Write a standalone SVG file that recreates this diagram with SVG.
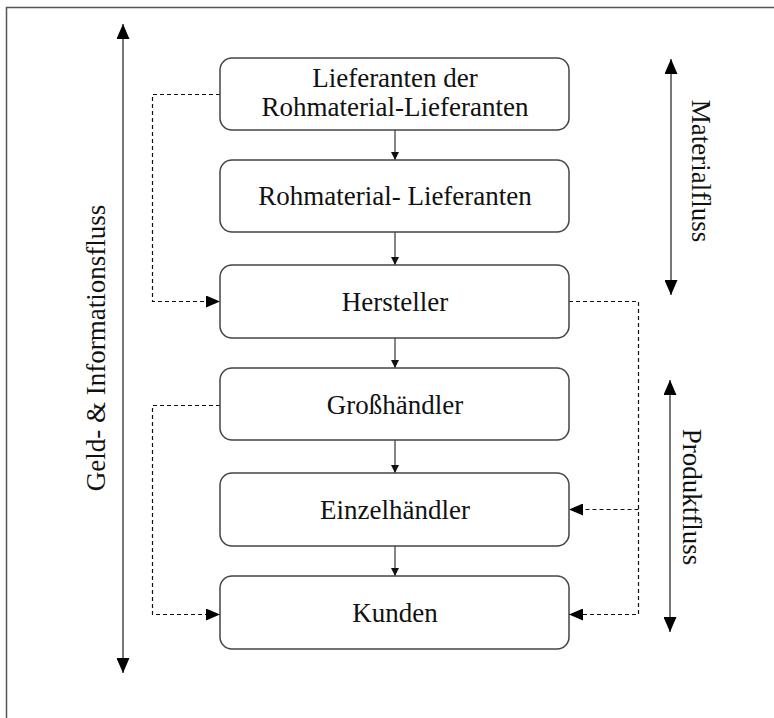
<svg xmlns="http://www.w3.org/2000/svg" width="774" height="718" viewBox="0 0 774 718">
<style>
.node rect{fill:#fff;stroke:#444;stroke-width:1.5}
text{font-family:"Liberation Serif","Times New Roman",serif;font-size:27px;fill:#111}
.nt{text-anchor:middle}
.solid{stroke:#333;stroke-width:1.2;fill:none}
.dash{stroke:#111;stroke-width:1.2;fill:none;stroke-dasharray:4 3}
.flow{stroke:#555;stroke-width:1.6;fill:none}
</style>
<defs>
<marker id="sm" viewBox="0 0 10 10" refX="10" refY="5" markerWidth="8" markerHeight="8" markerUnits="userSpaceOnUse" orient="auto"><path d="M0,0 L10,5 L0,10 z" fill="#111"/></marker>
<marker id="dm" viewBox="0 0 10 10" refX="10" refY="5" markerWidth="14" markerHeight="12" markerUnits="userSpaceOnUse" orient="auto" preserveAspectRatio="none"><path d="M0,0 L10,5 L0,10 z" fill="#000"/></marker>
<marker id="bm" viewBox="0 0 10 10" refX="10" refY="5" markerWidth="15" markerHeight="13" markerUnits="userSpaceOnUse" orient="auto-start-reverse" preserveAspectRatio="none"><path d="M0,0 L10,5 L0,10 z" fill="#000"/></marker>
</defs>
<rect x="6.5" y="7.5" width="800" height="800" fill="#fff" stroke="#555" stroke-width="1.5"/>
<g id="connectors">
<line class="solid" x1="395" y1="130" x2="395" y2="160" marker-end="url(#sm)"/>
<line class="solid" x1="395" y1="232" x2="395" y2="265" marker-end="url(#sm)"/>
<line class="solid" x1="395" y1="338" x2="395" y2="368" marker-end="url(#sm)"/>
<line class="solid" x1="395" y1="440" x2="395" y2="473" marker-end="url(#sm)"/>
<line class="solid" x1="395" y1="546" x2="395" y2="576" marker-end="url(#sm)"/>
<path class="dash" d="M220,94.5 H152.5 V301.5 H220" marker-end="url(#dm)"/>
<path class="dash" d="M220,405.5 H152.5 V614.5 H220" marker-end="url(#dm)"/>
<path class="dash" d="M569,301.5 H638.5 V614.5 H569" marker-end="url(#dm)"/>
<path class="dash" d="M638.5,509.5 H569" marker-end="url(#dm)"/>
</g>
<g id="flow-geld">
<line class="flow" x1="123" y1="24" x2="123" y2="673" marker-start="url(#bm)" marker-end="url(#bm)"/>
<text transform="translate(105,348) rotate(-90)" text-anchor="middle">Geld-  &amp;  Informationsfluss</text>
</g>
<g id="flow-material">
<line class="flow" x1="671" y1="59" x2="671" y2="295" marker-start="url(#bm)" marker-end="url(#bm)"/>
<text transform="translate(692,171) rotate(90)" text-anchor="middle">Materialfluss</text>
</g>
<g id="flow-produkt">
<line class="flow" x1="670" y1="380" x2="670" y2="632" marker-start="url(#bm)" marker-end="url(#bm)"/>
<text transform="translate(683,497) rotate(90)" text-anchor="middle">Produktfluss</text>
</g>
<g id="n1" class="node"><rect x="220" y="58" width="349" height="72" rx="12"/><text class="nt" x="395" y="87">Lieferanten der</text><text class="nt" x="395" y="116">Rohmaterial-Lieferanten</text></g>
<g id="n2" class="node"><rect x="220" y="160" width="349" height="72" rx="12"/><text class="nt" x="395" y="205">Rohmaterial- Lieferanten</text></g>
<g id="n3" class="node"><rect x="220" y="265" width="349" height="73" rx="12"/><text class="nt" x="395" y="311">Hersteller</text></g>
<g id="n4" class="node"><rect x="220" y="368" width="349" height="72" rx="12"/><text class="nt" x="395" y="414">Großhändler</text></g>
<g id="n5" class="node"><rect x="220" y="473" width="349" height="73" rx="12"/><text class="nt" x="395" y="519">Einzelhändler</text></g>
<g id="n6" class="node"><rect x="220" y="576" width="349" height="73" rx="12"/><text class="nt" x="395" y="622">Kunden</text></g>
</svg>
